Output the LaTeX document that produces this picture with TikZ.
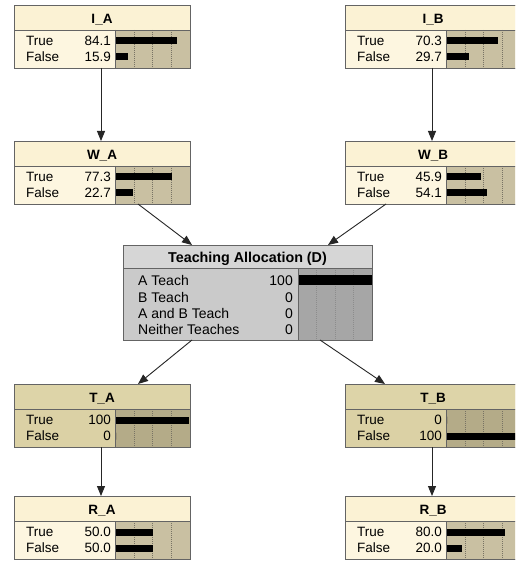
\documentclass[tikz,border=0pt]{standalone}
\usepackage{fontspec}
\setmainfont{Liberation Sans}
\usetikzlibrary{arrows.meta,calc}

% colour schemes: plain chance node, observed node, decision node
\definecolor{crTitle}{RGB}{251,242,212}
\definecolor{crBody}{RGB}{253,246,224}
\definecolor{crBar}{RGB}{201,192,162}
\definecolor{tnTitle}{RGB}{221,212,168}
\definecolor{tnBody}{RGB}{219,209,165}
\definecolor{tnBar}{RGB}{180,171,136}
\definecolor{dcTitle}{RGB}{214,214,214}
\definecolor{dcBody}{RGB}{202,202,202}
\definecolor{dcBar}{RGB}{166,166,166}
\definecolor{frame}{RGB}{100,100,100}
\definecolor{tickc}{RGB}{120,115,100}

\tikzset{
  boxframe/.style={draw=frame, line width=0.9pt, inner sep=0pt, outer sep=0pt, anchor=north west},
  sepline/.style={draw=frame, line width=0.8pt},
  tickline/.style={draw=tickc, line width=0.5pt, dash pattern=on 1pt off 1pt},
  arr/.style={draw=black!85, line width=0.9pt, -{Triangle[length=10pt,width=8pt]}},
  rowtxt/.style={font=\fontsize{13.5}{15}\selectfont, inner sep=0pt},
  ttltxt/.style={font=\fontsize{13.5}{15}\selectfont\bfseries, inner sep=0pt},
  drowtxt/.style={font=\fontsize{14}{16}\selectfont, inner sep=0pt},
  dttltxt/.style={font=\fontsize{14.3}{16}\selectfont\bfseries, inner sep=0pt},
}

% two-state chance node: name, x, y, title, value1, value2, pct1, pct2, scheme
\newcommand{\bnchance}[9]{%
  \node[boxframe, fill=#9Body, minimum width=176pt, minimum height=63pt] (#1) at (#2,-#3) {};
  \fill[#9Title] (#1.north west) rectangle ($(#1.north east)+(0,-25)$);
  \fill[#9Bar] ($(#1.north west)+(101,-25)$) rectangle (#1.south east);
  \foreach \tx in {119.75,138.5,157.25}
    \draw[tickline] ($(#1.north west)+(\tx,-25)$) -- ($(#1.south west)+(\tx,0)$);
  \fill[black] ($(#1.north west)+(102,-39.5)$) rectangle ++({0.73*#7},7);
  \fill[black] ($(#1.north west)+(102,-55.5)$) rectangle ++({0.73*#8},7);
  \draw[sepline] ($(#1.north west)+(0,-25)$) -- ($(#1.north east)+(0,-25)$);
  \draw[sepline] ($(#1.north west)+(101,-25)$) -- ($(#1.south west)+(101,0)$);
  \node[ttltxt, anchor=base] at ($(#1.north west)+(88,-18.5)$) {#4};
  \node[rowtxt, anchor=base west] at ($(#1.north west)+(12,-40.8)$) {True};
  \node[rowtxt, anchor=base west] at ($(#1.north west)+(12,-56.8)$) {False};
  \node[rowtxt, anchor=base east] at ($(#1.north west)+(97,-40.8)$) {#5};
  \node[rowtxt, anchor=base east] at ($(#1.north west)+(97,-56.8)$) {#6};
  \draw[draw=frame, line width=0.9pt] (#1.north west) rectangle (#1.south east);
}

\begin{document}
\begin{tikzpicture}[x=1pt,y=1pt]
  \useasboundingbox (0,0) rectangle (515,-561);
  \fill[white] (0,0) rectangle (515,-561);
  \clip (0,0) rectangle (515,-561);

  % chance nodes
  \bnchance{IA}{14}{5}{I\_A}{84.1}{15.9}{84.1}{15.9}{cr}
  \bnchance{IB}{345}{5}{I\_B}{70.3}{29.7}{70.3}{29.7}{cr}
  \bnchance{WA}{14}{141}{W\_A}{77.3}{22.7}{77.3}{22.7}{cr}
  \bnchance{WB}{345}{141}{W\_B}{45.9}{54.1}{45.9}{54.1}{cr}
  \bnchance{TA}{14}{384}{T\_A}{100}{0}{100}{0}{tn}
  \bnchance{TB}{345}{384}{T\_B}{0}{100}{0}{100}{tn}
  \bnchance{RA}{14}{496}{R\_A}{50.0}{50.0}{50.0}{50.0}{cr}
  \bnchance{RB}{345}{496}{R\_B}{80.0}{20.0}{80.0}{20.0}{cr}

  % decision node
  \node[boxframe, fill=dcBody, minimum width=249pt, minimum height=95pt] (D) at (123,-245) {};
  \fill[dcTitle] (D.north west) rectangle ($(D.north east)+(0,-23)$);
  \fill[dcBar] ($(D.north west)+(175,-23)$) rectangle (D.south east);
  \foreach \tx in {193.5,212,230.5}
    \draw[tickline, draw=black!45] ($(D.north west)+(\tx,-23)$) -- ($(D.south west)+(\tx,0)$);
  \fill[black] ($(D.north west)+(176,-40)$) rectangle ++(73,10);
  \draw[sepline] ($(D.north west)+(0,-23)$) -- ($(D.north east)+(0,-23)$);
  \draw[sepline] ($(D.north west)+(175,-23)$) -- ($(D.south west)+(175,0)$);
  \node[dttltxt, anchor=base] at ($(D.north west)+(124.5,-17.5)$) {Teaching Allocation (D)};
  \node[drowtxt, anchor=base west] at ($(D.north west)+(15,-40)$) {A Teach};
  \node[drowtxt, anchor=base west] at ($(D.north west)+(15,-57)$) {B Teach};
  \node[drowtxt, anchor=base west] at ($(D.north west)+(15,-73)$) {A and B Teach};
  \node[drowtxt, anchor=base west] at ($(D.north west)+(15,-89)$) {Neither Teaches};
  \node[drowtxt, anchor=base east] at ($(D.north west)+(170,-40)$) {100};
  \node[drowtxt, anchor=base east] at ($(D.north west)+(170,-57)$) {0};
  \node[drowtxt, anchor=base east] at ($(D.north west)+(170,-73)$) {0};
  \node[drowtxt, anchor=base east] at ($(D.north west)+(170,-89)$) {0};
  \draw[draw=frame, line width=0.9pt] (D.north west) rectangle (D.south east);

  % links
  \draw[arr] ($(IA.south west)+(87,0)$) -- ($(WA.north west)+(87,0)$);
  \draw[arr] ($(IB.south west)+(87,0)$) -- ($(WB.north west)+(87,0)$);
  \draw[arr] ($(WA.south west)+(124,0)$) -- ($(D.north west)+(69,0)$);
  \draw[arr] ($(WB.south west)+(41,0)$) -- ($(D.north west)+(205,0)$);
  \draw[arr] ($(D.south west)+(69,0)$) -- ($(TA.north west)+(124,0)$);
  \draw[arr] ($(D.south west)+(197,0)$) -- ($(TB.north west)+(40,0)$);
  \draw[arr] ($(TA.south west)+(87,0)$) -- ($(RA.north west)+(87,0)$);
  \draw[arr] ($(TB.south west)+(87,0)$) -- ($(RB.north west)+(87,0)$);
\end{tikzpicture}
\end{document}
